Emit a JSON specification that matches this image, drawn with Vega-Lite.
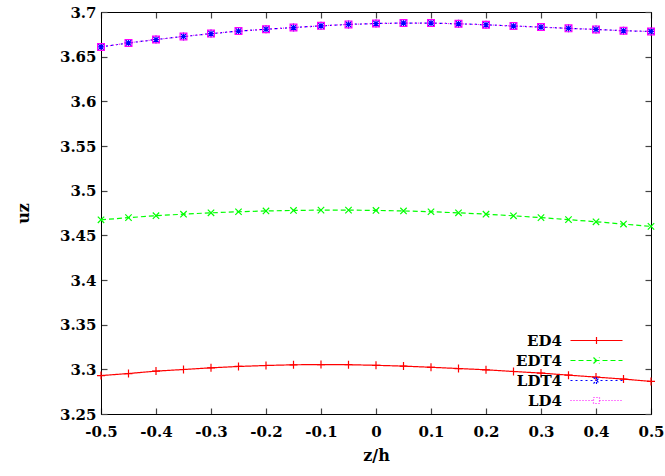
{
  "$schema": "https://vega.github.io/schema/vega-lite/v6.json",
  "width": 550,
  "height": 402,
  "autosize": {"type": "none"},
  "padding": {"left": 101, "top": 12, "right": 14, "bottom": 62},
  "background": "white",
  "config": {
    "view": {"stroke": "black", "strokeWidth": 1},
    "axis": {
      "grid": false,
      "labelFont": "DejaVu Serif",
      "labelFontWeight": "bold",
      "labelFontSize": 15,
      "labelColor": "black",
      "titleFont": "DejaVu Serif",
      "titleFontWeight": "bold",
      "titleFontSize": 16,
      "titleColor": "black",
      "domainColor": "black",
      "tickColor": "#444",
      "tickSize": -6,
      "tickWidth": 1.2
    },
    "legend": {
      "labelFont": "DejaVu Serif",
      "labelFontWeight": "bold",
      "labelFontSize": 15,
      "labelColor": "black"
    }
  },
  "datasets": {
    "pts": [
      {"z": -0.5, "u": 3.293, "s": "ED4"},
      {"z": -0.45, "u": 3.2953, "s": "ED4"},
      {"z": -0.4, "u": 3.298, "s": "ED4"},
      {"z": -0.35, "u": 3.2998, "s": "ED4"},
      {"z": -0.3, "u": 3.3017, "s": "ED4"},
      {"z": -0.25, "u": 3.3032, "s": "ED4"},
      {"z": -0.2, "u": 3.3043, "s": "ED4"},
      {"z": -0.15, "u": 3.3051, "s": "ED4"},
      {"z": -0.1, "u": 3.3053, "s": "ED4"},
      {"z": -0.05, "u": 3.3052, "s": "ED4"},
      {"z": 0, "u": 3.3045, "s": "ED4"},
      {"z": 0.05, "u": 3.3036, "s": "ED4"},
      {"z": 0.1, "u": 3.3023, "s": "ED4"},
      {"z": 0.15, "u": 3.3009, "s": "ED4"},
      {"z": 0.2, "u": 3.2995, "s": "ED4"},
      {"z": 0.25, "u": 3.2976, "s": "ED4"},
      {"z": 0.3, "u": 3.2958, "s": "ED4"},
      {"z": 0.35, "u": 3.2935, "s": "ED4"},
      {"z": 0.4, "u": 3.2913, "s": "ED4"},
      {"z": 0.45, "u": 3.2891, "s": "ED4"},
      {"z": 0.5, "u": 3.2865, "s": "ED4"},
      {"z": -0.5, "u": 3.4674, "s": "EDT4"},
      {"z": -0.45, "u": 3.4698, "s": "EDT4"},
      {"z": -0.4, "u": 3.4720, "s": "EDT4"},
      {"z": -0.35, "u": 3.4737, "s": "EDT4"},
      {"z": -0.3, "u": 3.4752, "s": "EDT4"},
      {"z": -0.25, "u": 3.4764, "s": "EDT4"},
      {"z": -0.2, "u": 3.4773, "s": "EDT4"},
      {"z": -0.15, "u": 3.4779, "s": "EDT4"},
      {"z": -0.1, "u": 3.4782, "s": "EDT4"},
      {"z": -0.05, "u": 3.4782, "s": "EDT4"},
      {"z": 0, "u": 3.4779, "s": "EDT4"},
      {"z": 0.05, "u": 3.4773, "s": "EDT4"},
      {"z": 0.1, "u": 3.4764, "s": "EDT4"},
      {"z": 0.15, "u": 3.4752, "s": "EDT4"},
      {"z": 0.2, "u": 3.4737, "s": "EDT4"},
      {"z": 0.25, "u": 3.4719, "s": "EDT4"},
      {"z": 0.3, "u": 3.4698, "s": "EDT4"},
      {"z": 0.35, "u": 3.4676, "s": "EDT4"},
      {"z": 0.4, "u": 3.4652, "s": "EDT4"},
      {"z": 0.45, "u": 3.4626, "s": "EDT4"},
      {"z": 0.5, "u": 3.4600, "s": "EDT4"},
      {"z": -0.5, "u": 3.6609, "s": "LDT4"},
      {"z": -0.45, "u": 3.6654, "s": "LDT4"},
      {"z": -0.4, "u": 3.6692, "s": "LDT4"},
      {"z": -0.35, "u": 3.6726, "s": "LDT4"},
      {"z": -0.3, "u": 3.6758, "s": "LDT4"},
      {"z": -0.25, "u": 3.6786, "s": "LDT4"},
      {"z": -0.2, "u": 3.6807, "s": "LDT4"},
      {"z": -0.15, "u": 3.6826, "s": "LDT4"},
      {"z": -0.1, "u": 3.6845, "s": "LDT4"},
      {"z": -0.05, "u": 3.6861, "s": "LDT4"},
      {"z": 0, "u": 3.6871, "s": "LDT4"},
      {"z": 0.05, "u": 3.6876, "s": "LDT4"},
      {"z": 0.1, "u": 3.6876, "s": "LDT4"},
      {"z": 0.15, "u": 3.6868, "s": "LDT4"},
      {"z": 0.2, "u": 3.6857, "s": "LDT4"},
      {"z": 0.25, "u": 3.6843, "s": "LDT4"},
      {"z": 0.3, "u": 3.6831, "s": "LDT4"},
      {"z": 0.35, "u": 3.6817, "s": "LDT4"},
      {"z": 0.4, "u": 3.6805, "s": "LDT4"},
      {"z": 0.45, "u": 3.6790, "s": "LDT4"},
      {"z": 0.5, "u": 3.6782, "s": "LDT4"},
      {"z": -0.5, "u": 3.6609, "s": "LD4"},
      {"z": -0.45, "u": 3.6654, "s": "LD4"},
      {"z": -0.4, "u": 3.6692, "s": "LD4"},
      {"z": -0.35, "u": 3.6726, "s": "LD4"},
      {"z": -0.3, "u": 3.6758, "s": "LD4"},
      {"z": -0.25, "u": 3.6786, "s": "LD4"},
      {"z": -0.2, "u": 3.6807, "s": "LD4"},
      {"z": -0.15, "u": 3.6826, "s": "LD4"},
      {"z": -0.1, "u": 3.6845, "s": "LD4"},
      {"z": -0.05, "u": 3.6861, "s": "LD4"},
      {"z": 0, "u": 3.6871, "s": "LD4"},
      {"z": 0.05, "u": 3.6876, "s": "LD4"},
      {"z": 0.1, "u": 3.6876, "s": "LD4"},
      {"z": 0.15, "u": 3.6868, "s": "LD4"},
      {"z": 0.2, "u": 3.6857, "s": "LD4"},
      {"z": 0.25, "u": 3.6843, "s": "LD4"},
      {"z": 0.3, "u": 3.6831, "s": "LD4"},
      {"z": 0.35, "u": 3.6817, "s": "LD4"},
      {"z": 0.4, "u": 3.6805, "s": "LD4"},
      {"z": 0.45, "u": 3.6790, "s": "LD4"},
      {"z": 0.5, "u": 3.6782, "s": "LD4"}
    ]
  },
  "data": {"name": "pts"},
  "encoding": {
    "x": {
      "field": "z", "type": "quantitative",
      "scale": {"domain": [-0.5, 0.5], "nice": false, "zero": false},
      "axis": null
    },
    "y": {
      "field": "u", "type": "quantitative",
      "scale": {"domain": [3.25, 3.7], "nice": false, "zero": false},
      "axis": null
    },
    "color": {
      "field": "s", "type": "nominal",
      "scale": {"domain": ["ED4", "EDT4", "LDT4", "LD4"], "range": ["#ff0000", "#00ff00", "#0000ff", "#ff00ff"]}
    }
  },
  "layer": [
    {
      "mark": {"type": "line", "strokeWidth": 1.2},
      "encoding": {
        "x": {
          "field": "z", "type": "quantitative",
          "axis": {
            "title": "z/h",
            "values": [-0.5, -0.4, -0.3, -0.2, -0.1, 0, 0.1, 0.2, 0.3, 0.4, 0.5],
            "labelExpr": "replace(format(datum.value, '.1~f'), '\u2212', '-')",
            "labelPadding": 16,
            "labelFlush": false,
            "titlePadding": 8
          }
        },
        "y": {
          "field": "u", "type": "quantitative",
          "axis": {
            "title": "uz",
            "values": [3.25, 3.3, 3.35, 3.4, 3.45, 3.5, 3.55, 3.6, 3.65, 3.7],
            "format": ".2~f",
            "labelPadding": 11,
            "titlePadding": 28
          }
        },
        "strokeDash": {
          "field": "s", "type": "nominal",
          "scale": {"domain": ["ED4", "EDT4", "LDT4", "LD4"], "range": [[1, 0], [5, 3], [2, 3], [1, 2]]},
          "legend": null
        },
        "order": {"field": "z", "type": "quantitative"}
      }
    },
    {
      "transform": [{"filter": "datum.s === 'ED4'"}],
      "mark": {"type": "point", "filled": false, "strokeWidth": 1.2, "opacity": 1, "size": 64, "shape": "M0,-1V1M-1,0H1"},
      "encoding": {
        "x": {
          "field": "z", "type": "quantitative",
          "axis": {"orient": "top", "labels": false, "title": null, "values": [-0.5, -0.4, -0.3, -0.2, -0.1, 0, 0.1, 0.2, 0.3, 0.4, 0.5]}
        },
        "y": {
          "field": "u", "type": "quantitative",
          "axis": {"orient": "right", "labels": false, "title": null, "values": [3.25, 3.3, 3.35, 3.4, 3.45, 3.5, 3.55, 3.6, 3.65, 3.7]}
        }
      }
    },
    {
      "transform": [{"filter": "datum.s === 'EDT4'"}],
      "mark": {"type": "point", "filled": false, "strokeWidth": 1.2, "opacity": 1, "size": 64, "shape": "M-0.8,-0.8L0.8,0.8M-0.8,0.8L0.8,-0.8"}
    },
    {
      "transform": [{"filter": "datum.s === 'LDT4'"}],
      "mark": {"type": "point", "filled": false, "strokeWidth": 1.2, "opacity": 1, "size": 64, "shape": "M0,-1V1M-1,0H1M-0.8,-0.8L0.8,0.8M-0.8,0.8L0.8,-0.8"}
    },
    {
      "transform": [{"filter": "datum.s === 'LD4'"}],
      "mark": {"type": "point", "filled": false, "strokeWidth": 1.2, "opacity": 1, "size": 64, "shape": "M-0.85,-0.85H0.85V0.85H-0.85Z"}
    },
    {
      "transform": [{"filter": "datum.z > 9"}],
      "mark": {"type": "point", "filled": false, "strokeWidth": 1.2, "opacity": 1},
      "encoding": {
        "color": {
          "field": "s", "type": "nominal",
          "legend": {
            "orient": "none",
            "legendX": 488,
            "legendY": 321,
            "title": null,
            "symbolSize": 64,
            "symbolStrokeWidth": 1.2,
            "labelAlign": "right",
            "labelOffset": -42,
            "rowPadding": 4,
            "padding": 0
          }
        },
        "shape": {
          "field": "s", "type": "nominal",
          "scale": {"domain": ["ED4", "EDT4", "LDT4", "LD4"], "range": [
            "M-6.5,0L6.5,0M0,-0.9L0,0.9",
            "M-6.5,0L6.5,0M-0.75,-0.75L0.75,0.75M-0.75,0.75L0.75,-0.75",
            "M-6.5,0L6.5,0M0,-0.9L0,0.9M-0.75,-0.75L0.75,0.75M-0.75,0.75L0.75,-0.75",
            "M-6.5,0L-0.75,0M0.75,0L6.5,0M-0.75,-0.75L0.75,-0.75L0.75,0.75L-0.75,0.75Z"
          ]},
          "legend": {
            "orient": "none",
            "legendX": 488,
            "legendY": 321,
            "title": null,
            "symbolSize": 64,
            "symbolStrokeWidth": 1.2,
            "labelAlign": "right",
            "labelOffset": -42,
            "rowPadding": 4,
            "padding": 0
          }
        },
        "strokeDash": {
          "field": "s", "type": "nominal",
          "legend": null
        },
        "size": {"value": 64}
      }
    }
  ],
  "resolve": {"axis": {"x": "independent", "y": "independent"}}
}
